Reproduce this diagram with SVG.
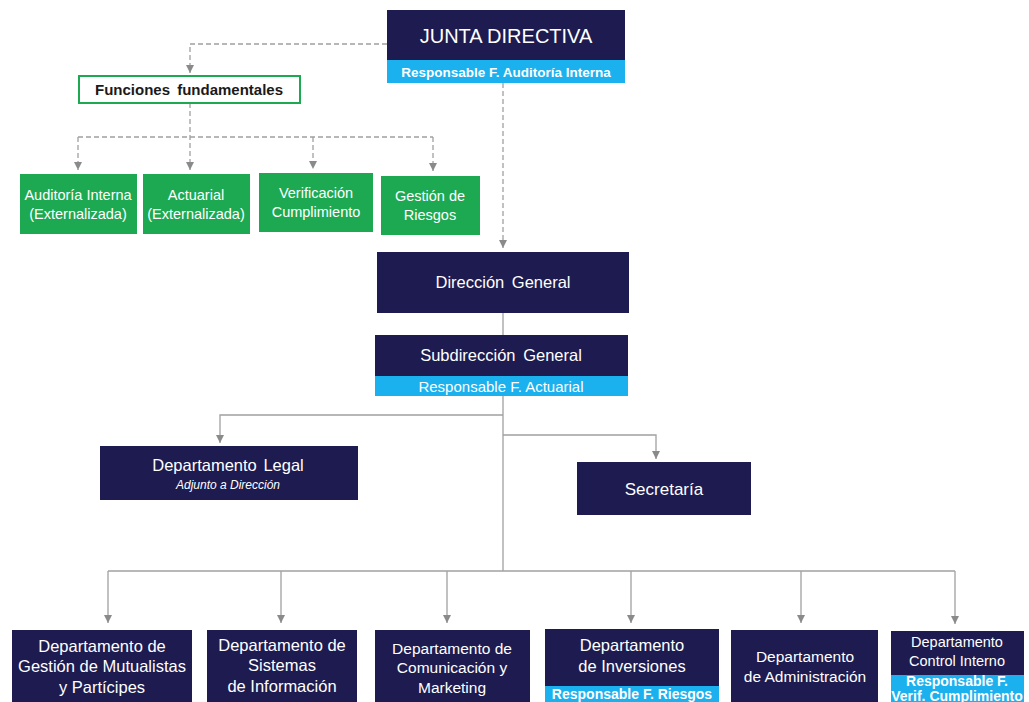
<svg xmlns="http://www.w3.org/2000/svg" width="1029" height="702" viewBox="0 0 1029 702">
<defs>
<marker id="arr" markerWidth="8" markerHeight="8" refX="8" refY="4" orient="auto" markerUnits="userSpaceOnUse" viewBox="0 0 8 8">
<path d="M0,0 L8,4 L0,8 Z" fill="#8a8a8a"/>
</marker>
<style>
.navy{fill:#1d1b4f;}
.band{fill:#1bb0ee;}
.green{fill:#1ca952;}
.t{font-family:"Liberation Sans",Arial,sans-serif;fill:#ffffff;text-anchor:middle;}
.tb{font-family:"Liberation Sans",Arial,sans-serif;fill:#ffffff;text-anchor:middle;font-weight:bold;}
.dash{fill:none;stroke:#a0a0a0;stroke-width:1.3;stroke-dasharray:5,3;}
.solid{fill:none;stroke:#a0a0a0;stroke-width:1.3;}
</style>
</defs>
<rect width="1029" height="702" fill="#ffffff"/>

<g id="connectors">
<path class="dash" d="M387,44 H190 V73" marker-end="url(#arr)"/>
<path class="dash" d="M190,103 V170" marker-end="url(#arr)"/>
<path class="dash" d="M78,137 H433"/>
<path class="dash" d="M78,137 V170" marker-end="url(#arr)"/>
<path class="dash" d="M313,137 V169" marker-end="url(#arr)"/>
<path class="dash" d="M433,137 V171" marker-end="url(#arr)"/>
<path class="dash" d="M503,83 V248" marker-end="url(#arr)"/>
<path class="solid" d="M503,313 V336"/>
<path class="solid" d="M503,396 V571"/>
<path class="solid" d="M503,415 H220 V443" marker-end="url(#arr)"/>
<path class="solid" d="M503,435 H656 V459" marker-end="url(#arr)"/>
<path class="solid" d="M108,571 H955"/>
<path class="solid" d="M108,571 V623" marker-end="url(#arr)"/>
<path class="solid" d="M281,571 V623" marker-end="url(#arr)"/>
<path class="solid" d="M447,571 V623" marker-end="url(#arr)"/>
<path class="solid" d="M631,571 V623" marker-end="url(#arr)"/>
<path class="solid" d="M801,571 V623" marker-end="url(#arr)"/>
<path class="solid" d="M955,571 V624" marker-end="url(#arr)"/>
</g>

<g id="junta">
<rect class="navy" x="387" y="10" width="238" height="50"/>
<rect class="band" x="387" y="60" width="238" height="23"/>
<text class="t" x="506" y="43" font-size="20">JUNTA DIRECTIVA</text>
<text class="tb" x="506" y="76.5" font-size="13.5">Responsable F. Auditoría Interna</text>
</g>

<g id="funciones">
<rect x="79" y="76" width="221" height="27" fill="#ffffff" stroke="#1ca952" stroke-width="2"/>
<text x="189" y="95" font-size="15" font-weight="bold" text-anchor="middle" fill="#1a1a1a" font-family="Liberation Sans,Arial,sans-serif" word-spacing="3">Funciones fundamentales</text>
</g>

<g id="auditoria">
<rect class="green" x="20" y="174" width="117" height="60"/>
<text class="t" x="78" y="200" font-size="14.5">Auditoría Interna</text>
<text class="t" x="78" y="219" font-size="14.5">(Externalizada)</text>
</g>
<g id="actuarial">
<rect class="green" x="143" y="174" width="107" height="60"/>
<text class="t" x="196" y="200" font-size="14.5">Actuarial</text>
<text class="t" x="196" y="219" font-size="14.5">(Externalizada)</text>
</g>
<g id="verificacion">
<rect class="green" x="259" y="173" width="114" height="59"/>
<text class="t" x="316" y="198" font-size="14.5">Verificación</text>
<text class="t" x="316" y="217" font-size="14.5">Cumplimiento</text>
</g>
<g id="riesgos">
<rect class="green" x="381" y="176" width="99" height="59"/>
<text class="t" x="430" y="201" font-size="14.5">Gestión de</text>
<text class="t" x="430" y="220" font-size="14.5">Riesgos</text>
</g>

<g id="direccion">
<rect class="navy" x="377" y="252" width="252" height="61"/>
<text class="t" x="503" y="288" font-size="16.5" word-spacing="3">Dirección General</text>
</g>

<g id="subdireccion">
<rect class="navy" x="375" y="335" width="253" height="41"/>
<rect class="band" x="375" y="376" width="253" height="20"/>
<text class="t" x="501" y="361" font-size="16.5" word-spacing="3">Subdirección General</text>
<text class="t" x="501" y="391.5" font-size="15">Responsable F. Actuarial</text>
</g>

<g id="legal">
<rect class="navy" x="100" y="446" width="258" height="54"/>
<text class="t" x="228" y="471" font-size="16.5" word-spacing="2">Departamento Legal</text>
<text class="t" x="228" y="489" font-size="12" font-style="italic">Adjunto a Dirección</text>
</g>

<g id="secretaria">
<rect class="navy" x="577" y="462" width="174" height="53"/>
<text class="t" x="664" y="495" font-size="17">Secretaría</text>
</g>

<g id="mutualistas">
<rect class="navy" x="12" y="630" width="180" height="72"/>
<text class="t" x="102" y="652" font-size="16.5">Departamento de</text>
<text class="t" x="102" y="672" font-size="16.5">Gestión de Mutualistas</text>
<text class="t" x="102" y="693" font-size="16.5">y Partícipes</text>
</g>

<g id="sistemas">
<rect class="navy" x="207" y="630" width="150" height="72"/>
<text class="t" x="282" y="651" font-size="16.5">Departamento de</text>
<text class="t" x="282" y="671" font-size="16.5">Sistemas</text>
<text class="t" x="282" y="692" font-size="16.5">de Información</text>
</g>

<g id="comunicacion">
<rect class="navy" x="375" y="630" width="155" height="72"/>
<text class="t" x="452" y="654" font-size="15.5">Departamento de</text>
<text class="t" x="452" y="673" font-size="15.5">Comunicación y</text>
<text class="t" x="452" y="693" font-size="15.5">Marketing</text>
</g>

<g id="inversiones">
<rect class="navy" x="545" y="629" width="174" height="57"/>
<rect class="band" x="545" y="686" width="174" height="16"/>
<text class="t" x="632" y="651" font-size="16.5">Departamento</text>
<text class="t" x="632" y="672" font-size="16.5">de Inversiones</text>
<text class="tb" x="632" y="699" font-size="14">Responsable F. Riesgos</text>
</g>

<g id="administracion">
<rect class="navy" x="731" y="630" width="147" height="72"/>
<text class="t" x="805" y="662" font-size="15.5">Departamento</text>
<text class="t" x="805" y="682" font-size="15.5">de Administración</text>
</g>

<g id="control">
<rect class="navy" x="891" y="631" width="133" height="44"/>
<rect class="band" x="891" y="675" width="133" height="27"/>
<text class="t" x="957" y="647" font-size="14.5">Departamento</text>
<text class="t" x="957" y="666" font-size="14.5">Control Interno</text>
<text class="tb" x="957" y="686" font-size="14">Responsable F.</text>
<text class="tb" x="957" y="701" font-size="14">Verif. Cumplimiento</text>
</g>
</svg>
